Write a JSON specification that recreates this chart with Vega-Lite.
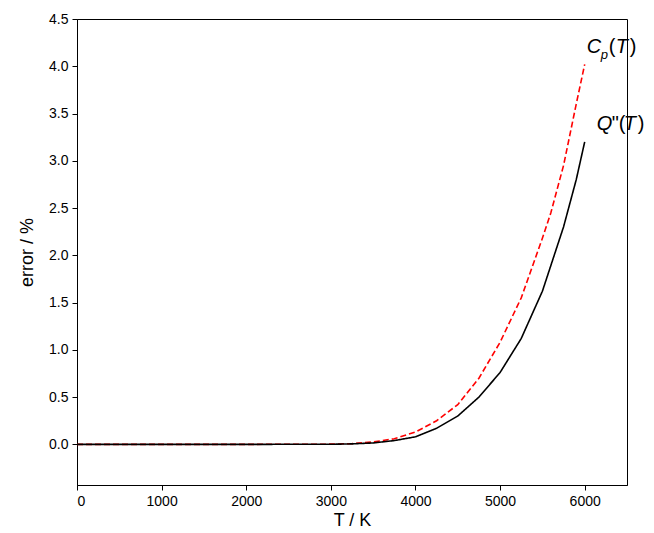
{
  "$schema": "https://vega.github.io/schema/vega-lite/v6.json",
  "width": 550, "height": 466,
  "autosize": {"type": "none"},
  "padding": {"left": 77, "top": 19, "right": 27, "bottom": 48},
  "config": {
    "font": "Liberation Sans",
    "view": {"stroke": "black", "strokeWidth": 1},
    "axis": {"domainColor": "black", "tickColor": "black", "labelColor": "black", "titleColor": "black",
             "labelFontSize": 14, "titleFontSize": 18, "titleFontWeight": "normal", "grid": false,
             "tickSize": 5, "labelPadding": 4}
  },
  "datasets": {
    "curves": [
      {"T": 0, "v": 0, "s": "Cp"}, {"T": 1000, "v": 0, "s": "Cp"}, {"T": 2000, "v": 0, "s": "Cp"},
      {"T": 3000, "v": 0.002, "s": "Cp"}, {"T": 3250, "v": 0.008, "s": "Cp"}, {"T": 3500, "v": 0.025, "s": "Cp"},
      {"T": 3750, "v": 0.06, "s": "Cp"}, {"T": 4000, "v": 0.13, "s": "Cp"}, {"T": 4250, "v": 0.25, "s": "Cp"},
      {"T": 4500, "v": 0.42, "s": "Cp"}, {"T": 4750, "v": 0.7, "s": "Cp"}, {"T": 5000, "v": 1.08, "s": "Cp"},
      {"T": 5250, "v": 1.55, "s": "Cp"}, {"T": 5500, "v": 2.18, "s": "Cp"}, {"T": 5600, "v": 2.45, "s": "Cp"},
      {"T": 5750, "v": 2.95, "s": "Cp"}, {"T": 5900, "v": 3.6, "s": "Cp"}, {"T": 6000, "v": 4.02, "s": "Cp"},
      {"T": 0, "v": 0, "s": "Q"}, {"T": 1000, "v": 0, "s": "Q"}, {"T": 2000, "v": 0, "s": "Q"},
      {"T": 3000, "v": 0.001, "s": "Q"}, {"T": 3250, "v": 0.005, "s": "Q"}, {"T": 3500, "v": 0.015, "s": "Q"},
      {"T": 3750, "v": 0.04, "s": "Q"}, {"T": 4000, "v": 0.08, "s": "Q"}, {"T": 4250, "v": 0.17, "s": "Q"},
      {"T": 4500, "v": 0.3, "s": "Q"}, {"T": 4750, "v": 0.5, "s": "Q"}, {"T": 5000, "v": 0.76, "s": "Q"},
      {"T": 5250, "v": 1.12, "s": "Q"}, {"T": 5500, "v": 1.62, "s": "Q"}, {"T": 5750, "v": 2.3, "s": "Q"},
      {"T": 5900, "v": 2.8, "s": "Q"}, {"T": 6000, "v": 3.2, "s": "Q"}
    ],
    "lab": [{"T": 6000, "v": 4.2}, {"T": 6000, "v": 3.2}]
  },
  "layer": [
    {
      "data": {"name": "curves"},
      "mark": {"type": "line", "strokeWidth": 1.6},
      "encoding": {
        "x": {"field": "T", "type": "quantitative", "scale": {"domain": [0, 6500], "nice": false},
              "axis": {"values": [0, 1000, 2000, 3000, 4000, 5000, 6000], "format": "d", "title": "T / K", "titlePadding": 3}},
        "y": {"field": "v", "type": "quantitative", "scale": {"domain": [-0.43, 4.5], "nice": false},
              "axis": {"values": [0, 0.5, 1, 1.5, 2, 2.5, 3, 3.5, 4, 4.5], "format": ".1f", "title": "error / %", "titlePadding": 12}},
        "color": {"field": "s", "type": "nominal", "scale": {"domain": ["Cp", "Q"], "range": ["#ff0000", "black"]}, "legend": null},
        "strokeDash": {"field": "s", "type": "nominal", "scale": {"domain": ["Cp", "Q"], "range": [[6, 3], [1, 0]]}, "legend": null}
      }
    },
    {
      "data": {"name": "lab"},
      "transform": [{"filter": "datum.v > 4"}],
      "layer": [
        {"mark": {"type": "text", "text": "C", "fontSize": 20, "fontStyle": "italic", "align": "left", "dx": 2}},
        {"mark": {"type": "text", "text": "p", "fontSize": 13, "fontStyle": "italic", "align": "left", "dx": 16, "dy": 8}},
        {"mark": {"type": "text", "text": "(", "fontSize": 20, "align": "left", "dx": 24}},
        {"mark": {"type": "text", "text": "T", "fontSize": 20, "fontStyle": "italic", "align": "left", "dx": 31}},
        {"mark": {"type": "text", "text": ")", "fontSize": 20, "align": "left", "dx": 45}}
      ],
      "encoding": {"x": {"field": "T", "type": "quantitative"}, "y": {"field": "v", "type": "quantitative"}}
    },
    {
      "data": {"name": "lab"},
      "transform": [{"filter": "datum.v < 4"}],
      "layer": [
        {"mark": {"type": "text", "text": "Q", "fontSize": 20, "fontStyle": "italic", "align": "left", "dx": 12, "dy": -18}},
        {"mark": {"type": "text", "text": "\"(", "fontSize": 20, "align": "left", "dx": 27, "dy": -18}},
        {"mark": {"type": "text", "text": "T", "fontSize": 20, "fontStyle": "italic", "align": "left", "dx": 39, "dy": -18}},
        {"mark": {"type": "text", "text": ")", "fontSize": 20, "align": "left", "dx": 53, "dy": -18}}
      ],
      "encoding": {"x": {"field": "T", "type": "quantitative"}, "y": {"field": "v", "type": "quantitative"}}
    }
  ]
}
